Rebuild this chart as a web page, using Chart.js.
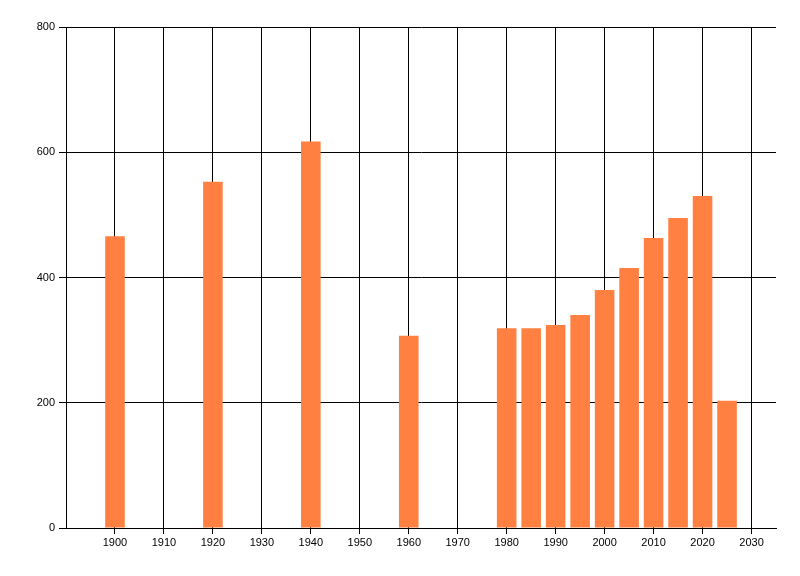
<!DOCTYPE html>
<html>
<head>
<meta charset="utf-8">
<script src="https://cdn.jsdelivr.net/npm/chart.js@4/dist/chart.umd.min.js"></script>
<style>
  html, body { margin: 0; padding: 0; background: #fff; }
  #wrap { width: 800px; height: 576px; }
</style>
</head>
<body>
<div id="wrap"><canvas id="my-chart" width="800" height="576"></canvas></div>
<script>
const years = [1900, 1920, 1940, 1960, 1980, 1985, 1990, 1995, 2000, 2005, 2010, 2015, 2020, 2025];
const values = [466, 553, 617, 307, 319, 319, 324, 340, 380, 415, 463, 495, 530, 203];
const yearTicks = [1900, 1910, 1920, 1930, 1940, 1950, 1960, 1970, 1980, 1990, 2000, 2010, 2020, 2030];
const valueTicks = [0, 200, 400, 600, 800];

const tickFont = { family: 'Liberation Sans', size: 11 };
const ctx = document.getElementById('my-chart').getContext('2d');

new Chart(ctx, {
  type: 'bar',
  data: {
    datasets: [
      {
        data: years.map((y, i) => ({ x: y, y: values[i] })),
        backgroundColor: '#ff8040',
        borderWidth: 0,
        categoryPercentage: 0.8,
        barPercentage: 1.0,
      },
    ],
  },
  options: {
    responsive: false,
    animation: false,
    layout: { padding: { top: 27, right: 24, bottom: 0, left: 0 } },
    plugins: {
      legend: { display: false },
      tooltip: { enabled: false },
    },
    scales: {
      x: {
        type: 'linear',
        min: 1890,
        max: 2035,
        offset: false,
        afterBuildTicks: (scale) => {
          scale.ticks = yearTicks.map((v) => ({ value: v }));
        },
        afterFit: (scale) => { scale.height = 48; },
        grid: { color: '#000', lineWidth: 1, tickLength: 6, drawTicks: true, offset: false },
        border: { display: true, color: '#000', width: 1 },
        ticks: {
          color: '#000',
          font: tickFont,
          padding: 2,
          maxRotation: 0,
          autoSkip: false,
          callback: (v) => String(v),
        },
      },
      y: {
        min: 0,
        max: 800,
        afterBuildTicks: (scale) => {
          scale.ticks = valueTicks.map((v) => ({ value: v }));
        },
        afterFit: (scale) => { scale.width = 66; },
        grid: { color: '#000', lineWidth: 1, tickLength: 7, drawTicks: true },
        border: { display: true, color: '#000', width: 1 },
        ticks: {
          color: '#000',
          font: tickFont,
          padding: 4,
          callback: (v) => String(v),
        },
      },
    },
  },
});
</script>
</body>
</html>
